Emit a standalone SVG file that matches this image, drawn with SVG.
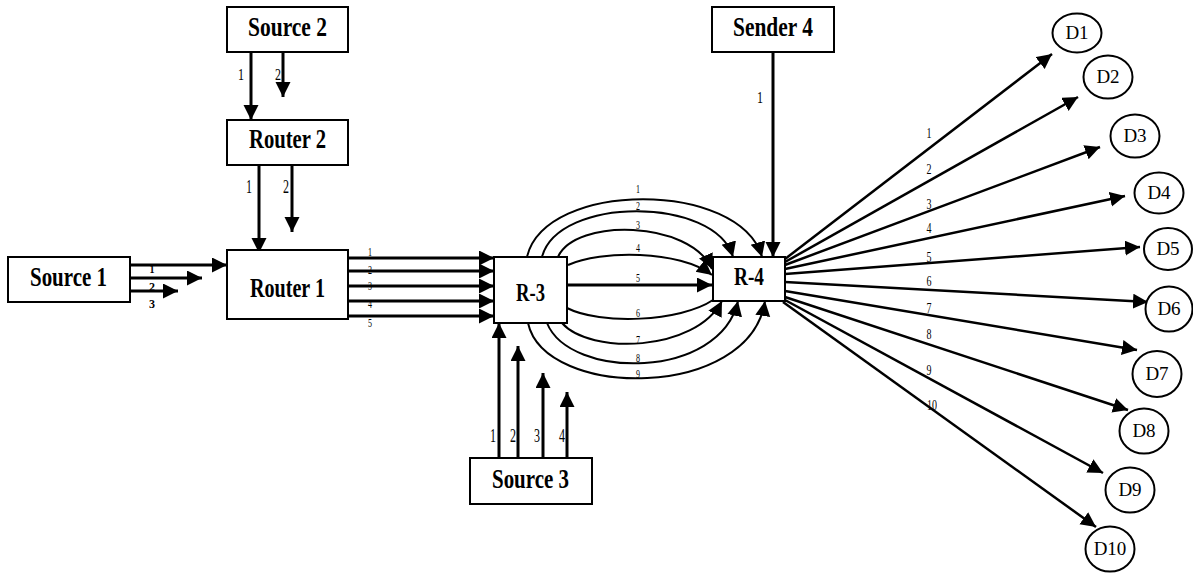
<svg xmlns="http://www.w3.org/2000/svg" width="1193" height="573" viewBox="0 0 1193 573">
<style>
.box{fill:#fff;stroke:#000;stroke-width:2}
.circ{fill:#fff;stroke:#000;stroke-width:2}
.big{font-weight:bold;font-size:28px;text-anchor:middle;fill:#000}
.mid{font-weight:bold;font-size:26px;text-anchor:middle;fill:#000}
.dl{font-size:19px;text-anchor:middle;fill:#000}
.lb{text-anchor:middle;fill:#000}
.s19{font-size:19px}
.s17{font-size:17px}
.s14{font-size:14px}
.s13{font-size:13px}
.s12b{font-size:12px;font-weight:bold}
.a3{fill:none;stroke:#000;stroke-width:3;marker-end:url(#ah)}
.a2{fill:none;stroke:#000;stroke-width:2.5;marker-end:url(#ah)}
.c2{fill:none;stroke:#000;stroke-width:2;marker-end:url(#ah)}
.c2n{fill:none;stroke:#000;stroke-width:2}
</style>
<defs>
<marker id="ah" markerUnits="userSpaceOnUse" markerWidth="17" markerHeight="17" refX="15" refY="7.5" orient="auto">
<path d="M0,0 L15,7.5 L0,15 z" fill="#000"/>
</marker>
</defs>
<rect width="1193" height="573" fill="#fff"/>

<g id="connectors">
<line class="a3" x1="251" y1="52" x2="251" y2="120"/>
<line class="a3" x1="283" y1="52" x2="283" y2="97"/>
<line class="a3" x1="259" y1="165" x2="259" y2="253"/>
<line class="a3" x1="292" y1="165" x2="292" y2="232"/>
<line class="a3" x1="130" y1="265" x2="227" y2="265"/>
<line class="a3" x1="130" y1="278" x2="202" y2="278"/>
<line class="a3" x1="130" y1="291" x2="178" y2="291"/>
<line class="a3" x1="348" y1="258" x2="494" y2="258"/>
<line class="a3" x1="348" y1="271" x2="494" y2="271"/>
<line class="a3" x1="348" y1="286" x2="494" y2="286"/>
<line class="a3" x1="348" y1="301" x2="494" y2="301"/>
<line class="a3" x1="348" y1="316" x2="494" y2="316"/>
<path class="c2" d="M527,257 C545,180 740,180 762,257"/>
<path class="c2" d="M542,257 C558,196 715,196 733,257"/>
<path class="c2" d="M558,257 C575,218 690,220 712,269"/>
<path class="c2" d="M568,265 C600,250 680,250 712,275"/>
<line class="a3" x1="567" y1="285" x2="712" y2="285"/>
<path class="c2n" d="M567,308 C600,325 680,322 713,300"/>
<path class="c2" d="M562,323 C590,355 695,352 722,301"/>
<path class="c2" d="M547,323 C570,380 720,380 738,301"/>
<path class="c2" d="M528,323 C545,400 750,400 765,301"/>
<line class="a3" x1="773" y1="52" x2="773" y2="257"/>
<line class="a3" x1="499" y1="458" x2="499" y2="323"/>
<line class="a3" x1="518" y1="458" x2="518" y2="346"/>
<line class="a3" x1="543" y1="463" x2="543" y2="373"/>
<line class="a3" x1="567" y1="458" x2="567" y2="392"/>
<line class="a2" x1="785" y1="259" x2="1052" y2="54"/>
<line class="a2" x1="785" y1="262" x2="1078" y2="97"/>
<line class="a2" x1="785" y1="265" x2="1100" y2="147"/>
<line class="a2" x1="785" y1="269" x2="1125" y2="196"/>
<line class="a2" x1="785" y1="274" x2="1140" y2="247"/>
<line class="a2" x1="785" y1="282" x2="1148" y2="302"/>
<line class="a2" x1="785" y1="291" x2="1137" y2="350"/>
<line class="a2" x1="785" y1="297" x2="1128" y2="410"/>
<line class="a2" x1="785" y1="300" x2="1103" y2="473"/>
<line class="a2" x1="783" y1="302" x2="1096" y2="527"/>
<g font-family="Liberation Serif, serif" opacity="0.99">
<text class="lb s17" x="241" y="80" textLength="6" lengthAdjust="spacingAndGlyphs">1</text>
<text class="lb s17" x="278" y="80" textLength="6" lengthAdjust="spacingAndGlyphs">2</text>
<text class="lb s19" x="249" y="193" textLength="6" lengthAdjust="spacingAndGlyphs">1</text>
<text class="lb s19" x="286" y="193" textLength="6" lengthAdjust="spacingAndGlyphs">2</text>
<text class="lb s12b" x="152" y="273" textLength="5" lengthAdjust="spacingAndGlyphs">1</text>
<text class="lb s12b" x="152" y="291" textLength="6" lengthAdjust="spacingAndGlyphs">2</text>
<text class="lb s12b" x="152" y="308" textLength="6" lengthAdjust="spacingAndGlyphs">3</text>
<text class="lb s13" x="370" y="256" textLength="4" lengthAdjust="spacingAndGlyphs">1</text>
<text class="lb s13" x="370" y="274" textLength="4" lengthAdjust="spacingAndGlyphs">2</text>
<text class="lb s13" x="370" y="290" textLength="4" lengthAdjust="spacingAndGlyphs">3</text>
<text class="lb s13" x="370" y="308" textLength="4" lengthAdjust="spacingAndGlyphs">4</text>
<text class="lb s13" x="370" y="327" textLength="4" lengthAdjust="spacingAndGlyphs">5</text>
<text class="lb s13" x="638" y="193" textLength="4" lengthAdjust="spacingAndGlyphs">1</text>
<text class="lb s13" x="638" y="210" textLength="4" lengthAdjust="spacingAndGlyphs">2</text>
<text class="lb s13" x="638" y="229" textLength="4" lengthAdjust="spacingAndGlyphs">3</text>
<text class="lb s13" x="638" y="252" textLength="4" lengthAdjust="spacingAndGlyphs">4</text>
<text class="lb s13" x="638" y="282" textLength="4" lengthAdjust="spacingAndGlyphs">5</text>
<text class="lb s13" x="638" y="317" textLength="4" lengthAdjust="spacingAndGlyphs">6</text>
<text class="lb s13" x="638" y="344" textLength="4" lengthAdjust="spacingAndGlyphs">7</text>
<text class="lb s13" x="638" y="362" textLength="4" lengthAdjust="spacingAndGlyphs">8</text>
<text class="lb s13" x="638" y="378" textLength="4" lengthAdjust="spacingAndGlyphs">9</text>
<text class="lb s17" x="760" y="103" textLength="6" lengthAdjust="spacingAndGlyphs">1</text>
<text class="lb s19" x="493" y="442" textLength="6" lengthAdjust="spacingAndGlyphs">1</text>
<text class="lb s19" x="513" y="442" textLength="6" lengthAdjust="spacingAndGlyphs">2</text>
<text class="lb s19" x="537" y="442" textLength="6" lengthAdjust="spacingAndGlyphs">3</text>
<text class="lb s19" x="562" y="442" textLength="6" lengthAdjust="spacingAndGlyphs">4</text>
<text class="lb s14" x="929" y="138" textLength="5" lengthAdjust="spacingAndGlyphs">1</text>
<text class="lb s14" x="929" y="174" textLength="5" lengthAdjust="spacingAndGlyphs">2</text>
<text class="lb s14" x="929" y="209" textLength="5" lengthAdjust="spacingAndGlyphs">3</text>
<text class="lb s14" x="929" y="233" textLength="5" lengthAdjust="spacingAndGlyphs">4</text>
<text class="lb s14" x="929" y="262" textLength="5" lengthAdjust="spacingAndGlyphs">5</text>
<text class="lb s14" x="929" y="286" textLength="5" lengthAdjust="spacingAndGlyphs">6</text>
<text class="lb s14" x="929" y="313" textLength="5" lengthAdjust="spacingAndGlyphs">7</text>
<text class="lb s14" x="929" y="339" textLength="5" lengthAdjust="spacingAndGlyphs">8</text>
<text class="lb s14" x="929" y="375" textLength="5" lengthAdjust="spacingAndGlyphs">9</text>
<text class="lb s14" x="932" y="410" textLength="10" lengthAdjust="spacingAndGlyphs">10</text>
</g>
</g>

<g font-family="Liberation Serif, serif">
<g id="source2"><rect class="box" x="227" y="7" width="121" height="45"/><text class="big" x="287.5" y="36" textLength="79" lengthAdjust="spacingAndGlyphs">Source 2</text></g>
<g id="router2"><rect class="box" x="227" y="120" width="121" height="45"/><text class="big" x="287.5" y="148" textLength="77" lengthAdjust="spacingAndGlyphs">Router 2</text></g>
<g id="router1"><rect class="box" x="227" y="250" width="121" height="69"/><text class="big" x="287.5" y="297" textLength="75" lengthAdjust="spacingAndGlyphs">Router 1</text></g>
<g id="source1"><rect class="box" x="8" y="257" width="122" height="45"/><text class="big" x="68.5" y="286" textLength="77" lengthAdjust="spacingAndGlyphs">Source 1</text></g>
<g id="r3"><rect class="box" x="494" y="257" width="73" height="66"/><text class="mid" x="530.5" y="301" textLength="29" lengthAdjust="spacingAndGlyphs">R-3</text></g>
<g id="r4"><rect class="box" x="713" y="257" width="72" height="44"/><text class="mid" x="749" y="285" textLength="30" lengthAdjust="spacingAndGlyphs">R-4</text></g>
<g id="sender4"><rect class="box" x="712" y="7" width="122" height="45"/><text class="big" x="773" y="36" textLength="80" lengthAdjust="spacingAndGlyphs">Sender 4</text></g>
<g id="source3"><rect class="box" x="470" y="458" width="122" height="46"/><text class="big" x="530.5" y="488" textLength="77" lengthAdjust="spacingAndGlyphs">Source 3</text></g>
</g>
<g font-family="Liberation Serif, serif">
<g id="d1"><ellipse class="circ" cx="1077" cy="33" rx="24.5" ry="19.5"/><text class="dl" x="1077" y="39">D1</text></g>
<g id="d2"><ellipse class="circ" cx="1108" cy="77" rx="24.5" ry="21.5"/><text class="dl" x="1108" y="83">D2</text></g>
<g id="d3"><ellipse class="circ" cx="1135" cy="136" rx="24.5" ry="21.5"/><text class="dl" x="1135" y="142">D3</text></g>
<g id="d4"><ellipse class="circ" cx="1159" cy="193" rx="24.5" ry="20.5"/><text class="dl" x="1159" y="199">D4</text></g>
<g id="d5"><ellipse class="circ" cx="1168" cy="249" rx="24" ry="21"/><text class="dl" x="1168" y="255">D5</text></g>
<g id="d6"><ellipse class="circ" cx="1169" cy="309" rx="23.5" ry="22.5"/><text class="dl" x="1169" y="315">D6</text></g>
<g id="d7"><ellipse class="circ" cx="1157" cy="374" rx="24.5" ry="23"/><text class="dl" x="1157" y="380">D7</text></g>
<g id="d8"><ellipse class="circ" cx="1144" cy="431" rx="24.5" ry="22.5"/><text class="dl" x="1144" y="437">D8</text></g>
<g id="d9"><ellipse class="circ" cx="1130" cy="490" rx="24.5" ry="22.5"/><text class="dl" x="1130" y="496">D9</text></g>
<g id="d10"><ellipse class="circ" cx="1110" cy="549" rx="24.5" ry="22.5"/><text class="dl" x="1110" y="555">D10</text></g>
</g>
</svg>
